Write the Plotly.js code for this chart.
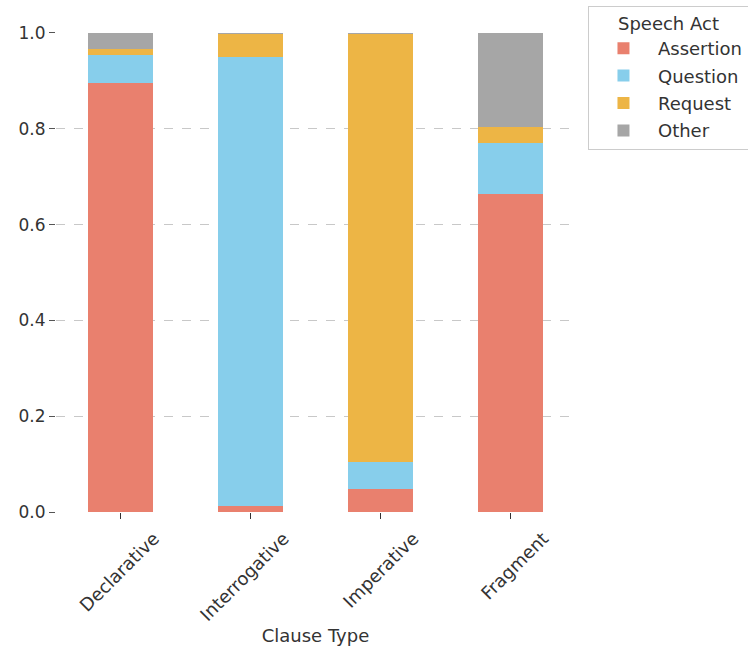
<!DOCTYPE html>
<html>
<head>
<meta charset="utf-8">
<script src="https://cdn.plot.ly/plotly-3.0.1.min.js"></script>
<style>html,body{margin:0;padding:0;background:#fff;}#chart{width:748px;height:654px;}</style>
</head>
<body>
<div id="chart"></div>
<script>
const clauseTypes = ["Declarative", "Interrogative", "Imperative", "Fragment"];
const assertion = [0.896, 0.012, 0.048, 0.664];
const question  = [0.058, 0.937, 0.056, 0.106];
const request   = [0.013, 0.048, 0.894, 0.034];
const other     = [0.033, 0.003, 0.002, 0.196];
const seriesNames = ["Assertion", "Question", "Request", "Other"];
const seriesColors = ["#E9806E", "#87CEEB", "#EDB545", "#A6A6A6"];
const seriesValues = [assertion, question, request, other];

const traces = seriesValues.map((vals, i) => ({
  type: "bar",
  name: seriesNames[i],
  legendgroup: seriesNames[i],
  x: clauseTypes,
  y: vals,
  width: 0.5,
  marker: {color: seriesColors[i], line: {width: 0}},
  hoverinfo: "x+y+name"
}));

const font = {family: "DejaVu Sans, sans-serif", size: 17, color: "#333"};
const font18 = {family: "DejaVu Sans, sans-serif", size: 18, color: "#333"};

const layout = {
  width: 748, height: 654,
  margin: {l: 56, r: 173, t: 32, b: 142, autoexpand: false},
  barmode: "stack",
  bargap: 0.5,
  paper_bgcolor: "#fff",
  plot_bgcolor: "#fff",
  font: font,
  showlegend: true,
  legend: {
    x: 1.025, y: 1.055, xanchor: "left", yanchor: "top",
    bordercolor: "#cccccc", borderwidth: 1, bgcolor: "#fff",
    title: {text: "Speech Act", side: "top center", font: font18},
    font: font18,
    traceorder: "grouped",
    tracegroupgap: 1,
    itemwidth: 59
  },
  xaxis: {
    type: "category",
    range: [-0.5, 3.5],
    tickangle: -45,
    ticklabelshift: 33,
    ticklabelstandoff: 2,
    ticks: "outside", ticklen: 6, tickcolor: "#333", tickwidth: 1,
    showline: false, showgrid: false, zeroline: false,
    tickfont: font18,
    automargin: false,
    title: {text: "Clause Type", font: font18, standoff: 3}
  },
  yaxis: {
    range: [0, 1.002],
    tickvals: [0, 0.2, 0.4, 0.6, 0.8, 1.0],
    ticktext: ["0.0", "0.2", "0.4", "0.6", "0.8", "1.0"],
    ticks: "outside", ticklen: 6, tickcolor: "#555", tickwidth: 1,
    showline: false, zeroline: false,
    showgrid: true, gridcolor: "#c8c8c8", griddash: "dash", gridwidth: 1,
    tickfont: font,
    automargin: false
  }
};

Plotly.newPlot("chart", traces, layout, {displayModeBar: false, staticPlot: true});
</script>
</body>
</html>
